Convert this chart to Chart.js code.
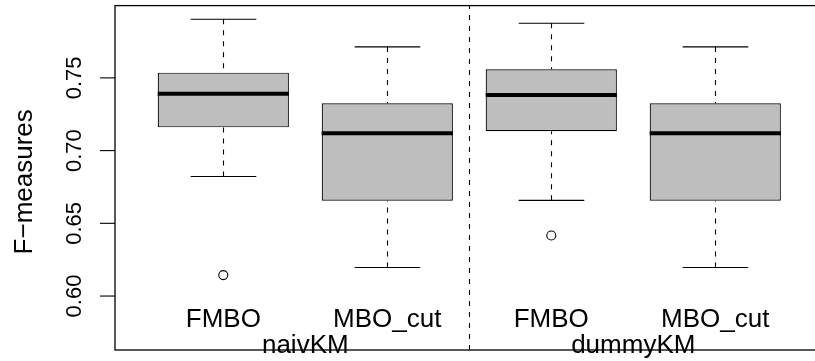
<!DOCTYPE html>
<html><head><meta charset="utf-8">
<script src="https://cdn.jsdelivr.net/npm/chart.js@4/dist/chart.umd.min.js"></script>
<style>
html,body{margin:0;padding:0;background:#fff;overflow:hidden;width:815px;height:361px}
#wrap{width:830px;height:361px}
</style></head>
<body><div id="wrap"><canvas id="c" width="830" height="361"></canvas></div>
<script>
// ---- data ----
const categories = ['FMBO', 'MBO_cut', 'FMBO', 'MBO_cut'];
const groups = ['naivKM', 'dummyKM'];
const positions = [1, 2, 3, 4];
const whiskerLow  = [0.6822, 0.6196, 0.6658, 0.6196];
const q1          = [0.7160, 0.6656, 0.7133, 0.6656];
const medians     = [0.7391, 0.7119, 0.7382, 0.7119];
const q3          = [0.7536, 0.7325, 0.7559, 0.7325];
const whiskerHigh = [0.7903, 0.7713, 0.7876, 0.7713];
const outliers    = [[0.6144], [], [0.6416], []];
const yTicks = [0.60, 0.65, 0.70, 0.75];
const yTickLabels = ['0.60', '0.65', '0.70', '0.75'];
const yTitle = 'F\u2212measures';
const separatorAt = 2.5;
const xRange = [0.3396, 4.66];
const yRange = [0.5629, 0.7997];

const FONT = '"Liberation Sans", Arial, Helvetica, sans-serif';

const boxExtras = {
  id: 'boxExtras',
  beforeDatasetsDraw(chart) {
    const {ctx, scales: {x, y}} = chart;
    const meta = chart.getDatasetMeta(0);
    ctx.save();
    ctx.strokeStyle = '#000';
    ctx.lineWidth = 1.1;
    positions.forEach((p, i) => {
      const bar = meta.data[i];
      const cx = Math.round(x.getPixelForValue(p)) + 0.5;
      const hw = bar.width / 4;
      // dashed whiskers (drawn from whisker end toward box)
      ctx.setLineDash([5, 6]);
      ctx.beginPath();
      ctx.moveTo(cx, y.getPixelForValue(whiskerHigh[i]));
      ctx.lineTo(cx, y.getPixelForValue(q3[i]));
      ctx.moveTo(cx, y.getPixelForValue(whiskerLow[i]));
      ctx.lineTo(cx, y.getPixelForValue(q1[i]));
      ctx.stroke();
      // staples
      ctx.setLineDash([]);
      ctx.beginPath();
      const yh = y.getPixelForValue(whiskerHigh[i]);
      const yl = y.getPixelForValue(whiskerLow[i]);
      ctx.moveTo(cx - hw, yh); ctx.lineTo(cx + hw, yh);
      ctx.moveTo(cx - hw, yl); ctx.lineTo(cx + hw, yl);
      ctx.stroke();
    });
    ctx.restore();
  },
  afterDatasetsDraw(chart) {
    const {ctx, scales: {y}} = chart;
    const meta = chart.getDatasetMeta(0);
    ctx.save();
    ctx.strokeStyle = '#000';
    ctx.lineWidth = 4;
    ctx.lineCap = 'butt';
    positions.forEach((p, i) => {
      const bar = meta.data[i];
      const ym = y.getPixelForValue(medians[i]);
      ctx.beginPath();
      ctx.moveTo(bar.x - bar.width / 2, ym);
      ctx.lineTo(bar.x + bar.width / 2, ym);
      ctx.stroke();
    });
    ctx.restore();
  },
  afterDraw(chart) {
    const {ctx, chartArea: a, scales: {x, y}} = chart;
    ctx.save();
    ctx.strokeStyle = '#000';
    // vertical separator
    ctx.lineWidth = 1.1;
    ctx.setLineDash([5, 6]);
    const sx = Math.round(x.getPixelForValue(separatorAt)) + 0.5;
    ctx.beginPath(); ctx.moveTo(sx, a.bottom); ctx.lineTo(sx, a.top); ctx.stroke();
    ctx.setLineDash([]);
    // plot frame
    ctx.lineWidth = 1.3;
    ctx.strokeRect(a.left, a.top, a.right - a.left, a.bottom - a.top);
    // y ticks and labels
    ctx.fillStyle = '#000';
    yTicks.forEach((v, i) => {
      const py = y.getPixelForValue(v);
      ctx.lineWidth = 1.1;
      ctx.beginPath(); ctx.moveTo(a.left - 15, py); ctx.lineTo(a.left, py); ctx.stroke();
      ctx.save();
      ctx.translate(a.left - 34, py);
      ctx.rotate(-Math.PI / 2);
      ctx.textAlign = 'center';
      ctx.textBaseline = 'alphabetic';
      ctx.font = '22px ' + FONT;
      ctx.fillText(yTickLabels[i], 0, 0);
      ctx.restore();
    });
    // y title
    ctx.save();
    ctx.translate(32, (a.top + a.bottom) / 2 + 4);
    ctx.rotate(-Math.PI / 2);
    ctx.textAlign = 'center';
    ctx.textBaseline = 'alphabetic';
    ctx.font = '26px ' + FONT;
    ctx.fillText(yTitle, 0, 0);
    ctx.restore();
    // category labels inside plot
    ctx.textAlign = 'center';
    ctx.textBaseline = 'alphabetic';
    ctx.font = '26px ' + FONT;
    categories.forEach((c, i) => {
      ctx.fillText(c, x.getPixelForValue(positions[i]), a.bottom - 23.5);
    });
    groups.forEach((g, gi) => {
      const cx = x.getPixelForValue((positions[gi * 2] + positions[gi * 2 + 1]) / 2);
      ctx.fillText(g, cx, a.bottom + 3);
    });
    ctx.restore();
  }
};

new Chart(document.getElementById('c'), {
  type: 'bar',
  data: {
    datasets: [
      {
        type: 'bar',
        data: positions.map((p, i) => ({x: p, y: [q1[i], q3[i]]})),
        backgroundColor: '#BEBEBE',
        borderColor: '#000',
        borderWidth: 1.2,
        borderSkipped: false,
        barPercentage: 0.8,
        categoryPercentage: 1.0,
        order: 1
      },
      {
        type: 'scatter',
        data: outliers.flatMap((arr, i) => arr.map(v => ({x: positions[i], y: v}))),
        pointStyle: 'circle',
        pointRadius: 4.5,
        pointBackgroundColor: '#fff',
        pointBorderColor: '#000',
        pointBorderWidth: 1.1,
        showLine: false,
        order: 0
      }
    ]
  },
  options: {
    responsive: false,
    animation: false,
    events: [],
    layout: {padding: {left: 115, right: 6.5, top: 2, bottom: 11}},
    scales: {
      x: {
        type: 'linear', min: xRange[0], max: xRange[1], display: false, offset: false,
        afterBuildTicks(scale) { scale.ticks = positions.map(v => ({value: v})); }
      },
      y: {type: 'linear', min: yRange[0], max: yRange[1], display: false}
    },
    plugins: {legend: {display: false}, tooltip: {enabled: false}}
  },
  plugins: [boxExtras]
});
</script>
</body></html>
